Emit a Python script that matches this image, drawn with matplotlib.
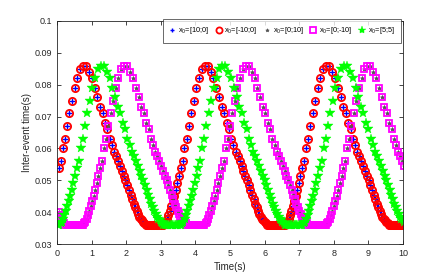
import numpy as np
import matplotlib
matplotlib.use("Agg")
import matplotlib.pyplot as plt
from matplotlib.ticker import FormatStrFormatter

# -----------------------------
# Data
# inter-event times in ms, one after the other; event k+1 happens
# tau_k after event k, so the time axis is the running sum.
# -----------------------------

labels = ["x$_0$=[10;0]", "x$_0$=[-10;0]", "x$_0$=[0;10]", "x$_0$=[0;-10]", "x$_0$=[5;5]"]
first_event = [0.06, 0.06, 0.05, 0.05, 0.03]  # s

tau_10_0 = [
    54, 56, 60, 63, 67, 71, 75, 79, 82, 85, 86, 86,
    84, 82, 79, 76, 73, 71, 68, 66, 63, 61, 59, 57.5, 56, 54.5, 53, 51.5, 50, 48.5, 47, 45.5,
    44, 42.5, 41.5, 40.5, 39.5, 38.5, 38, 37.5, 37, 36.5,
    36, 36, 36, 36, 36, 36, 36, 36, 36, 36, 36, 36, 36, 36, 36,
    36.5, 37, 38, 39, 40.5, 42, 43.5, 45, 47, 49, 51.5,
    54, 56, 60, 63, 67, 71, 75, 79, 82, 85, 86, 86,
    84, 82, 79, 76, 73, 71, 68, 66, 63, 61, 59, 57.5, 56, 54.5, 53, 51.5, 50, 48.5, 47, 45.5,
    44, 42.5, 41.5, 40.5, 39.5, 38.5, 38, 37.5, 37, 36.5,
    36, 36, 36, 36, 36, 36, 36, 36, 36, 36, 36, 36, 36, 36, 36,
    36.5, 37, 38, 39, 40.5, 42, 43.5, 45, 47, 49, 51.5,
    54, 56, 60, 63, 67, 71, 75, 79, 82, 85, 86, 86,
    84, 82, 79, 76, 73, 71, 68, 66, 63, 61, 59, 57.5, 56, 54.5, 53, 51.5, 50, 48.5, 47, 45.5,
    44, 42.5, 41.5, 40.5, 39.5, 38.5, 38, 37.5, 37, 36.5,
    36, 36, 36, 36, 36, 36, 36, 36, 36, 36, 36, 36, 36, 36, 36,
]
tau_m10_0 = list(tau_10_0)  # same trajectory as [10;0]

tau_0_10 = [
    40, 39, 38, 37, 36.5,
    36, 36, 36, 36, 36, 36, 36, 36, 36, 36, 36, 36, 36, 36, 36,
    36.5, 37, 38, 39, 40.5, 42, 43.5, 45, 47, 49, 51.5,
    54, 56, 60, 63, 67, 71, 75, 79, 82, 85, 86, 86,
    84, 82, 79, 76, 73, 71, 68, 66, 63, 61, 59, 57.5, 56, 54.5, 53, 51.5, 50, 48.5, 47, 45.5,
    44, 42.5, 41.5, 40.5, 39.5, 38.5, 38, 37.5, 37, 36.5,
    36, 36, 36, 36, 36, 36, 36, 36, 36, 36, 36, 36, 36, 36, 36,
    36.5, 37, 38, 39, 40.5, 42, 43.5, 45, 47, 49, 51.5,
    54, 56, 60, 63, 67, 71, 75, 79, 82, 85, 86, 86,
    84, 82, 79, 76, 73, 71, 68, 66, 63, 61, 59, 57.5, 56, 54.5, 53, 51.5, 50, 48.5, 47, 45.5,
    44, 42.5, 41.5, 40.5, 39.5, 38.5, 38, 37.5, 37, 36.5,
    36, 36, 36, 36, 36, 36, 36, 36, 36, 36, 36, 36, 36, 36, 36,
    36.5, 37, 38, 39, 40.5, 42, 43.5, 45, 47, 49, 51.5,
    54, 56, 60, 63, 67, 71, 75, 79, 82, 85, 86, 86,
    84, 82, 79, 76, 73, 71, 68, 66, 63, 61, 59, 57.5, 56, 54.5,
]
tau_0_m10 = list(tau_0_10)  # same trajectory as [0;10]

tau_5_5 = [
    36, 36,
    36.5, 37, 38, 39, 40.5, 42, 43.5, 45, 47, 49, 51.5,
    54, 56, 60, 63, 67, 71, 75, 79, 82, 85, 86, 86,
    84, 82, 79, 76, 73, 71, 68, 66, 63, 61, 59, 57.5, 56, 54.5, 53, 51.5, 50, 48.5, 47, 45.5,
    44, 42.5, 41.5, 40.5, 39.5, 38.5, 38, 37.5, 37, 36.5,
    36, 36, 36, 36, 36, 36, 36, 36, 36, 36, 36, 36, 36, 36, 36,
    36.5, 37, 38, 39, 40.5, 42, 43.5, 45, 47, 49, 51.5,
    54, 56, 60, 63, 67, 71, 75, 79, 82, 85, 86, 86,
    84, 82, 79, 76, 73, 71, 68, 66, 63, 61, 59, 57.5, 56, 54.5, 53, 51.5, 50, 48.5, 47, 45.5,
    44, 42.5, 41.5, 40.5, 39.5, 38.5, 38, 37.5, 37, 36.5,
    36, 36, 36, 36, 36, 36, 36, 36, 36, 36, 36, 36, 36, 36, 36,
    36.5, 37, 38, 39, 40.5, 42, 43.5, 45, 47, 49, 51.5,
    54, 56, 60, 63, 67, 71, 75, 79, 82, 85, 86, 86,
    84, 82, 79, 76, 73, 71, 68, 66, 63, 61, 59, 57.5, 56, 54.5, 53, 51.5, 50, 48.5, 47, 45.5,
    44, 42.5, 41.5, 40.5, 39.5, 38.5, 38, 37.5, 37,
]

x_ticks = list(range(0, 11))
y_ticks = [0.03, 0.04, 0.05, 0.06, 0.07, 0.08, 0.09, 0.1]


def event_times(t0, tau_ms):
    tau = np.asarray(tau_ms, dtype=float) / 1000.0
    t = t0 + np.concatenate([[0.0], np.cumsum(tau[:-1])])
    return t, tau


# -----------------------------
# Plot
# -----------------------------

plt.rcParams["font.family"] = ["Liberation Sans", "DejaVu Sans"]
plt.rcParams["mathtext.fontset"] = "custom"
plt.rcParams["mathtext.rm"] = "Liberation Sans"
plt.rcParams["mathtext.it"] = "Liberation Sans"

fig = plt.figure(figsize=(4.43, 2.77), dpi=100)
ax = fig.add_axes([0.1287, 0.1191, 0.7810, 0.8051])

styles = [
    dict(marker="+", color="blue", markersize=4, markeredgewidth=1.0),
    dict(marker="o", color="red", markerfacecolor="none", markersize=5.2, markeredgewidth=1.3),
    dict(marker="*", color="#555555", markersize=3, markeredgewidth=0.5),
    dict(marker="s", color="magenta", markerfacecolor="none", markersize=4.5, markeredgewidth=1.3),
    dict(marker="*", color="#00ff00", markersize=7, markeredgewidth=0.3),
]
series = [tau_10_0, tau_m10_0, tau_0_10, tau_0_m10, tau_5_5]

for t0, tau_ms, lab, st in zip(first_event, series, labels, styles):
    t, tau = event_times(t0, tau_ms)
    ax.plot(t, tau, linestyle="none", label=lab, **st)

ax.set_xlim(0, 10)
ax.set_ylim(0.03, 0.1)
ax.set_xticks(x_ticks)
ax.set_yticks(y_ticks)
ax.yaxis.set_major_formatter(FormatStrFormatter("%g"))
ax.tick_params(direction="in", length=3, width=0.6, labelsize=6.5,
               colors="#262626", top=True, right=True, pad=3.5)
for sp in ax.spines.values():
    sp.set_color("#262626")
    sp.set_linewidth(0.6)

ax.set_xlabel("Time(s)", fontsize=7, color="#262626", labelpad=3)
ax.set_ylabel("Inter-event time(s)", fontsize=7, color="#262626", labelpad=2)

leg = ax.legend(loc="upper right", bbox_to_anchor=(0.995, 1.01), ncol=5, fontsize=5.3,
                frameon=True, fancybox=False, markerscale=0.85,
                handlelength=0.8, handletextpad=0.35, columnspacing=0.9,
                borderpad=0.9, borderaxespad=0.0)
leg.get_frame().set_edgecolor("#262626")
leg.get_frame().set_linewidth(0.6)

fig.savefig("out.png", dpi=100)
